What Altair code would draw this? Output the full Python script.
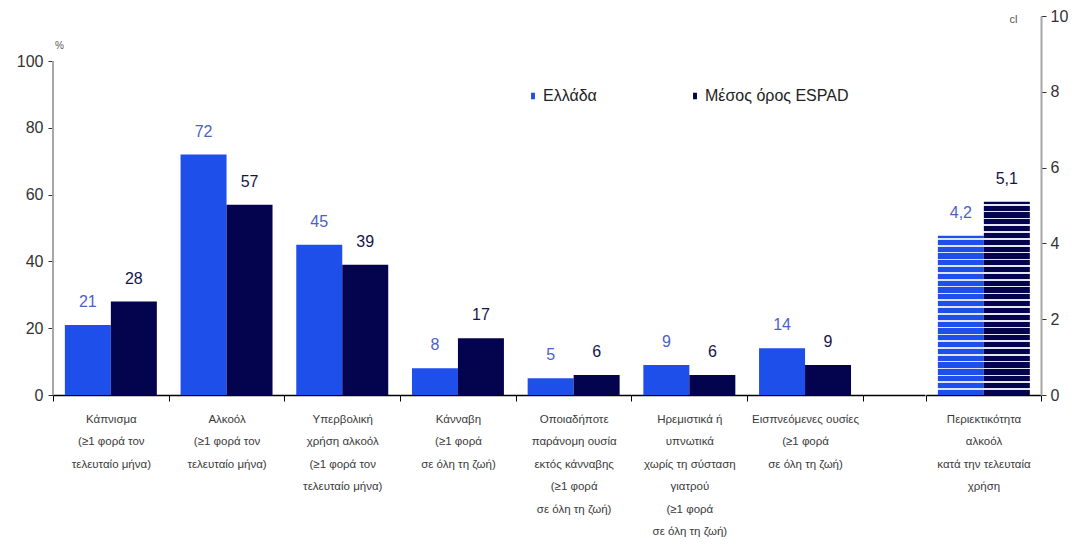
import altair as alt
import pandas as pd

FONT = "Liberation Sans Narrow, Liberation Sans, Arial Narrow, sans-serif"

# ---- data ----
series = ["Ελλάδα", "Μέσος όρος ESPAD"]
categories = [
    ["Κάπνισμα", "(≥1 φορά τον", "τελευταίο μήνα)"],
    ["Αλκοόλ", "(≥1 φορά τον", "τελευταίο μήνα)"],
    ["Υπερβολική", "χρήση αλκοόλ", "(≥1 φορά τον", "τελευταίο μήνα)"],
    ["Κάνναβη", "(≥1 φορά", "σε όλη τη ζωή)"],
    ["Οποιαδήποτε", "παράνομη ουσία", "εκτός κάνναβης", "(≥1 φορά", "σε όλη τη ζωή)"],
    ["Ηρεμιστικά ή", "υπνωτικά", "χωρίς τη σύσταση", "γιατρού", "(≥1 φορά", "σε όλη τη ζωή)"],
    ["Εισπνεόμενες ουσίες", "(≥1 φορά", "σε όλη τη ζωή)"],
]
greece = [21, 72, 45, 8, 5, 9, 14]
espad = [28, 57, 39, 17, 6, 6, 9]

right_category = ["Περιεκτικότητα", "αλκοόλ", "κατά την τελευταία", "χρήση"]
right_values = [4.2, 5.1]

left_ticks = [0, 20, 40, 60, 80, 100]
right_ticks = [0, 2, 4, 6, 8, 10]

BLUE = "#1F4FEA"
NAVY = "#03034E"
BLUE_TXT = "#4A63C4"
NAVY_TXT = "#15154A"
AXIS_GRAY = "#A6A6A6"

cat_keys = ["|".join(c) for c in categories]
rows = []
for c, g, e in zip(cat_keys, greece, espad):
    rows.append({"cat": c, "series": series[0], "value": g})
    rows.append({"cat": c, "series": series[1], "value": e})
left_df = pd.DataFrame(rows)

right_key = "|".join(right_category)
right_df = pd.DataFrame({"cat": [right_key] * 2, "series": series, "value": right_values})

# ---- left chart ----
x_left = alt.X(
    "cat:N", sort=cat_keys, title=None,
    scale=alt.Scale(paddingInner=0, paddingOuter=0.2684, align=0),
    axis=alt.Axis(labelAngle=0, labelExpr="split(datum.label, '|')", tickBand="extent",
                  domainColor="#000000", domainWidth=1.5, tickColor="#000000", tickSize=6,
                  labelFont=FONT, labelFontSize=11.5, labelColor="#3A3A3A",
                  labelLineHeight=22.5, labelPadding=12, labelOverlap=False, labelLimit=0),
)
xo_left = alt.XOffset("series:N", sort=series,
                      scale=alt.Scale(domain=series, paddingOuter=0.258, paddingInner=0))
y_scale_left = alt.Scale(domain=[0, 113.5], nice=False, zero=True)
y_left = alt.Y(
    "value:Q", scale=y_scale_left,
    axis=alt.Axis(values=left_ticks, domain=False, grid=False, title="%", titleAngle=0,
                  titleX=6, titleY=29, titleFont=FONT, titleFontSize=10,
                  titleFontWeight="normal", titleColor="#555555", titleAlign="center",
                  titleBaseline="middle", labelFont=FONT, labelFontSize=16,
                  labelColor="#333333", tickColor="#333333", tickSize=5, labelPadding=5),
)

bars = alt.Chart(left_df).mark_bar(strokeWidth=0).encode(
    x=x_left, xOffset=xo_left, y=y_left,
    color=alt.Color("series:N", sort=series,
                    scale=alt.Scale(domain=series, range=[BLUE, NAVY]),
                    legend=alt.Legend(title=None, orient="none", legendX=472, legendY=72,
                                      direction="horizontal",
                                      symbolType="M-0.3,-0.5H0.3V0.5H-0.3Z", symbolSize=170,
                                      symbolStrokeWidth=0, labelFont=FONT, labelFontSize=16,
                                      labelColor="#222222", columnPadding=90, labelOffset=2,
                                      padding=0)),
)
texts = alt.Chart(left_df).mark_text(font=FONT, fontSize=16, baseline="middle", dy=-23).encode(
    x=x_left, xOffset=xo_left, y=y_left,
    text=alt.Text("value:Q", format="d"),
    color=alt.Color("series:N", scale=alt.Scale(domain=series, range=[BLUE_TXT, NAVY_TXT]),
                    legend=None),
)
axis_line = alt.Chart(alt.Data(values=[{}])).mark_rule(color=AXIS_GRAY, strokeWidth=2).encode(
    x=alt.value(0), y=alt.datum(0, scale=y_scale_left), y2=alt.datum(100),
)
left = alt.layer(bars, texts, axis_line).resolve_scale(color="independent").properties(
    width=872, height=379)

# ---- right chart ----
def striped(color, h, light, period=0.18, w=0.042):
    intervals = []
    k = 0
    while True:
        a = k * period + (period - w)
        if a >= h:
            break
        b = min(a + w, h)
        intervals.append((1 - b / h, 1 - a / h))
        k += 1
    intervals.sort()
    stops = [alt.GradientStop(color=color, offset=0)]
    for s, e in intervals:
        stops += [alt.GradientStop(color=color, offset=s), alt.GradientStop(color=light, offset=s),
                  alt.GradientStop(color=light, offset=e), alt.GradientStop(color=color, offset=e)]
    stops.append(alt.GradientStop(color=color, offset=1))
    return alt.LinearGradient(gradient="linear", stops=stops, x1=0, x2=0, y1=0, y2=1)

x_right = alt.X(
    "cat:N", title=None, scale=alt.Scale(paddingInner=0, paddingOuter=0),
    axis=alt.Axis(labelAngle=0, labelExpr="split(datum.label, '|')", tickBand="extent",
                  domainColor="#000000", domainWidth=1.5, tickColor="#000000", tickSize=6,
                  labelFont=FONT, labelFontSize=11.5, labelColor="#3A3A3A",
                  labelLineHeight=22.5, labelPadding=12, labelOverlap=False, labelLimit=0),
)
xo_right = alt.XOffset("series:N", sort=series,
                       scale=alt.Scale(domain=series, paddingOuter=0.26, paddingInner=0))
y_right = alt.Y(
    "value:Q", scale=alt.Scale(domain=[0, 10], nice=False),
    axis=alt.Axis(orient="right", values=right_ticks, domainColor=AXIS_GRAY, domainWidth=2,
                  grid=False, tickColor="#333333", tickSize=5, labelFont=FONT,
                  labelFontSize=16, labelColor="#333333", labelPadding=4, title="cl",
                  titleAngle=0, titleX=-28, titleY=3, titleFont=FONT, titleFontSize=11,
                  titleFontWeight="normal", titleColor="#555555", titleAlign="center",
                  titleBaseline="middle"),
)
right_layers = []
fills = [(BLUE, "#DCE4FA"), (NAVY, "#E4E6F4")]
for s, v, (c, lt) in zip(series, right_values, fills):
    right_layers.append(
        alt.Chart(right_df).transform_filter(alt.datum.series == s)
        .mark_bar(color=striped(c, v, lt), strokeWidth=0)
        .encode(x=x_right, xOffset=xo_right, y=y_right)
    )
right_text = alt.Chart(right_df).transform_calculate(
    lbl="replace(format(datum.value, '.1f'), '.', ',')"
).mark_text(font=FONT, fontSize=16, baseline="middle", dy=-23).encode(
    x=x_right, xOffset=xo_right, y=y_right, text="lbl:N",
    color=alt.Color("series:N", scale=alt.Scale(domain=series, range=[BLUE_TXT, NAVY_TXT]),
                    legend=None),
)
right = alt.layer(*right_layers, right_text).properties(width=115, height=379)

chart = alt.hconcat(left, right, spacing=0).properties(
    padding={"left": 16, "top": 8, "right": 5, "bottom": 5}, background="white"
).configure_view(stroke=None)

chart.save("out.html", embed_options={"renderer": "svg", "actions": False})
